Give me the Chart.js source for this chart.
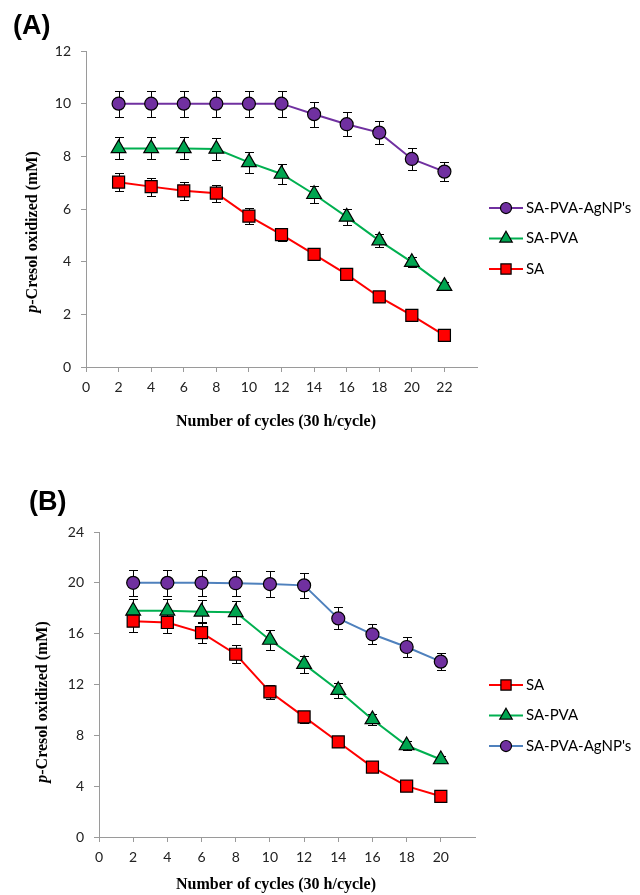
<!DOCTYPE html>
<html>
<head>
<meta charset="utf-8">
<script src="https://cdn.jsdelivr.net/npm/chart.js@4.4.1/dist/chart.umd.min.js"></script>
<style>
  body { margin: 0; background: #fff; }
  #wrap { position: relative; width: 640px; height: 895px; }
  #chartA { position: absolute; left: 0; top: 0; }
  #chartB { position: absolute; left: 0; top: 450px; }
</style>
</head>
<body>
<div id="wrap">
  <canvas id="chartA" width="640" height="450"></canvas>
  <canvas id="chartB" width="640" height="445"></canvas>
</div>
<script>

// panel A
const cyclesA = [2, 4, 6, 8, 10, 12, 14, 16, 18, 20, 22];
const agA = [10, 10, 10, 10, 10, 10, 9.6, 9.22, 8.9, 7.9, 7.42];
const pvaA = [8.3, 8.3, 8.3, 8.28, 7.77, 7.33, 6.56, 5.7, 4.8, 3.98, 3.07];
const saA = [7.02, 6.85, 6.69, 6.6, 5.73, 5.03, 4.28, 3.52, 2.66, 1.96, 1.2];
const agErrA = [0.5, 0.5, 0.5, 0.5, 0.5, 0.5, 0.48, 0.46, 0.45, 0.4, 0.37];
const pvaErrA = [0.42, 0.42, 0.42, 0.42, 0.39, 0.37, 0.33, 0.29, 0.24, 0.2, 0.15];
const saErrA = [0.35, 0.34, 0.33, 0.33, 0.29, 0.25, 0.21, 0.18, 0.13, 0.1, 0.06];

// panel B
const cyclesB = [2, 4, 6, 8, 10, 12, 14, 16, 18, 20];
const agB = [20, 20, 20, 19.97, 19.9, 19.8, 17.2, 15.95, 14.95, 13.8];
const pvaB = [17.8, 17.8, 17.72, 17.68, 15.5, 13.6, 11.55, 9.25, 7.2, 6.1];
const saB = [16.98, 16.88, 16.08, 14.38, 11.42, 9.45, 7.48, 5.5, 4.0, 3.2];
const agErrB = [1.0, 1.0, 1.0, 1.0, 1.0, 1.0, 0.86, 0.8, 0.75, 0.69];
const pvaErrB = [0.89, 0.89, 0.89, 0.88, 0.78, 0.68, 0.58, 0.46, 0.36, 0.3];
const saErrB = [0.85, 0.84, 0.8, 0.72, 0.57, 0.47, 0.37, 0.28, 0.2, 0.16];

const names = ["SA", "SA-PVA", "SA-PVA-AgNP's"];

const xTitle = "Number of cycles (30 h/cycle)";

const tickFont = { family: "Lato", size: 14 };

function points(xs, ys) {
  return xs.map((x, i) => ({ x: x, y: ys[i] }));
}

function makeSet(label, xs, ys, errs, line, fill, shape, radius) {
  return {
    label: label,
    data: points(xs, ys),
    errors: errs,
    borderColor: line,
    borderWidth: 2,
    pointStyle: shape,
    pointRadius: radius,
    pointHoverRadius: radius,
    pointBackgroundColor: fill,
    pointBorderColor: "#000",
    pointBorderWidth: 1.2,
    tension: 0
  };
}

function drawMarker(ctx, shape, x, y, r) {
  ctx.beginPath();
  if (shape === "circle") {
    ctx.arc(x, y, r, 0, Math.PI * 2);
  } else if (shape === "rect") {
    const s = Math.SQRT1_2 * r;
    ctx.rect(x - s, y - s, 2 * s, 2 * s);
  } else {
    const h = Math.sqrt(3) / 2 * r;
    ctx.moveTo(x, y - r);
    ctx.lineTo(x + h, y + r / 2);
    ctx.lineTo(x - h, y + r / 2);
    ctx.closePath();
  }
  ctx.fill();
  ctx.stroke();
}

const errorBars = {
  id: "errorBars",
  beforeDatasetsDraw(chart) {
    const ctx = chart.ctx;
    const xs = chart.scales.x;
    const ys = chart.scales.y;
    ctx.save();
    ctx.strokeStyle = "#000";
    ctx.lineWidth = 1;
    chart.data.datasets.forEach(ds => {
      ds.data.forEach((p, i) => {
        const e = ds.errors[i];
        const px = Math.round(xs.getPixelForValue(p.x)) + 0.5;
        const top = Math.round(ys.getPixelForValue(p.y + e)) + 0.5;
        const bot = Math.round(ys.getPixelForValue(p.y - e)) + 0.5;
        ctx.beginPath();
        ctx.moveTo(px, top);
        ctx.lineTo(px, bot);
        ctx.moveTo(px - 4.5, top);
        ctx.lineTo(px + 4.5, top);
        ctx.moveTo(px - 4.5, bot);
        ctx.lineTo(px + 4.5, bot);
        ctx.stroke();
      });
    });
    ctx.restore();
  }
};

const extraText = {
  id: "extraText",
  afterDraw(chart, args, opts) {
    const ctx = chart.ctx;
    ctx.save();
    ctx.fillStyle = "#000";

    // panel letter
    ctx.font = "bold 27px 'Liberation Sans', Arial, sans-serif";
    ctx.textBaseline = "middle";
    ctx.textAlign = "left";
    ctx.fillText(opts.panel, opts.panelX, opts.panelY);

    // x title
    ctx.font = "bold 16px 'Liberation Serif', 'Times New Roman', serif";
    ctx.textAlign = "center";
    ctx.fillText(xTitle, opts.xTitleX, opts.xTitleY);

    // y title with italic p
    ctx.translate(opts.yTitleX, opts.yTitleY);
    ctx.rotate(-Math.PI / 2);
    ctx.textAlign = "left";
    const italic = "italic bold 16px 'Liberation Serif', 'Times New Roman', serif";
    const bold = "bold 16px 'Liberation Serif', 'Times New Roman', serif";
    ctx.font = italic;
    const w1 = ctx.measureText("p").width;
    ctx.font = bold;
    const rest = "-Cresol oxidized (mM)";
    const w2 = ctx.measureText(rest).width;
    const start = -(w1 + w2) / 2;
    ctx.font = italic;
    ctx.fillText("p", start, 0);
    ctx.font = bold;
    ctx.fillText(rest, start + w1, 0);
    ctx.restore();

    // legend
    ctx.save();
    ctx.font = "15px Lato, sans-serif";
    ctx.textBaseline = "middle";
    ctx.textAlign = "left";
    opts.legendOrder.forEach((idx, row) => {
      const ds = chart.data.datasets[idx];
      const ly = opts.legendY + row * opts.legendGap;
      ctx.strokeStyle = ds.borderColor;
      ctx.lineWidth = 2;
      ctx.beginPath();
      ctx.moveTo(opts.legendX, ly);
      ctx.lineTo(opts.legendX + 34, ly);
      ctx.stroke();
      ctx.fillStyle = ds.pointBackgroundColor;
      ctx.strokeStyle = "#000";
      ctx.lineWidth = 1.2;
      drawMarker(ctx, ds.pointStyle, opts.legendX + 17, ly, ds.pointRadius * 0.85);
      ctx.fillStyle = "#000";
      ctx.fillText(ds.label, opts.legendX + 37, ly);
    });
    ctx.restore();
  }
};

function makeChart(id, cfg) {

  const xMax = cfg.xMax;

  return new Chart(document.getElementById(id), {
    type: "line",
    data: { datasets: cfg.datasets },
    plugins: [errorBars, extraText],
    options: {
      responsive: false,
      animation: false,
      events: [],
      layout: {
        padding: { top: cfg.padTop, right: cfg.padRight, left: 0, bottom: 0 }
      },
      plugins: {
        legend: { display: false },
        tooltip: { enabled: false },
        extraText: cfg.text
      },
      scales: {
        x: {
          type: "linear",
          min: 0,
          max: xMax,
          afterFit: s => { s.height = cfg.xHeight; },
          grid: {
            drawOnChartArea: false,
            tickLength: 5,
            color: c => (c.tick && c.tick.value === xMax) ? "rgba(0,0,0,0)" : "#9a9a9a"
          },
          border: { color: "#9a9a9a", width: 1 },
          ticks: {
            stepSize: 2,
            padding: 7,
            color: "#222",
            font: tickFont,
            maxRotation: 0,
            callback: v => (v === xMax ? "" : v)
          }
        },
        y: {
          min: 0,
          max: cfg.yMax,
          afterFit: s => { s.width = cfg.yWidth; },
          grid: { drawOnChartArea: false, tickLength: 5, color: "#9a9a9a" },
          border: { color: "#9a9a9a", width: 1 },
          ticks: {
            stepSize: cfg.yStep,
            padding: 10,
            color: "#222",
            font: tickFont
          }
        }
      }
    }
  });
}

makeChart("chartA", {
  datasets: [
    makeSet(names[0], cyclesA, saA, saErrA, "#FF0000", "#FF0000", "rect", 8.5),
    makeSet(names[1], cyclesA, pvaA, pvaErrA, "#00B050", "#00A550", "triangle", 8.5),
    makeSet(names[2], cyclesA, agA, agErrA, "#7030A0", "#7030A0", "circle", 6.5)
  ],
  xMax: 24,
  yMax: 12,
  yStep: 2,
  padTop: 51,
  padRight: 163,
  xHeight: 83,
  yWidth: 86,
  text: {
    panel: "(A)", panelX: 13, panelY: 27,
    xTitleX: 276, xTitleY: 422,
    yTitleX: 33, yTitleY: 232,
    legendOrder: [2, 1, 0],
    legendX: 489, legendY: 208, legendGap: 30.5
  }
});

makeChart("chartB", {
  datasets: [
    makeSet(names[0], cyclesB, saB, saErrB, "#FF0000", "#FF0000", "rect", 8.5),
    makeSet(names[1], cyclesB, pvaB, pvaErrB, "#00B050", "#00A550", "triangle", 8.5),
    makeSet(names[2], cyclesB, agB, agErrB, "#4F81BD", "#7030A0", "circle", 6.5)
  ],
  xMax: 22,
  yMax: 24,
  yStep: 4,
  padTop: 82,
  padRight: 165,
  xHeight: 58,
  yWidth: 99,
  text: {
    panel: "(B)", panelX: 29, panelY: 53,
    xTitleX: 276, xTitleY: 435,
    yTitleX: 43, yTitleY: 252,
    legendOrder: [0, 1, 2],
    legendX: 489, legendY: 235, legendGap: 30.5
  }
});

</script>
</body>
</html>
